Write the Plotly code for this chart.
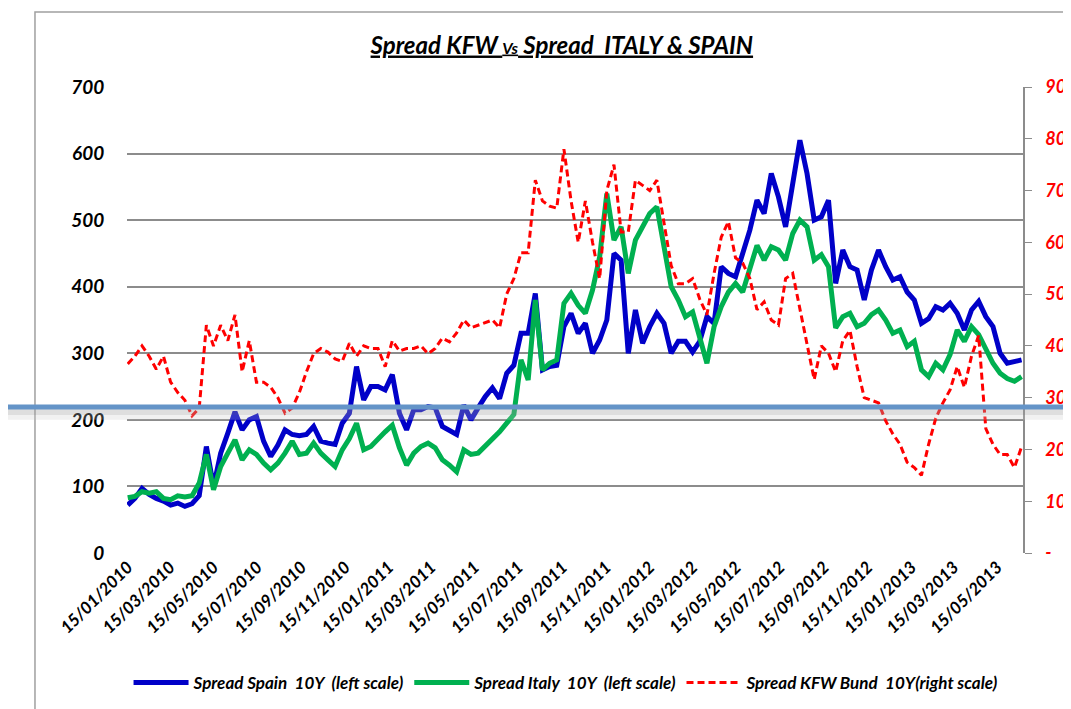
import pandas as pd
import plotly.graph_objects as go

# one reading roughly every 10 days, 15/01/2010 -> mid June 2013
dates = pd.date_range("2010-01-15", periods=126, freq="10D")

spain_10y = [
    72, 82, 97, 88, 82, 78, 72, 75, 70, 74,
    86, 160, 100, 150, 180, 212, 185, 200, 205, 168,
    145, 162, 185, 178, 176, 178, 190, 168, 165, 163,
    195, 210, 280, 230, 250, 250, 245, 268, 210, 185,
    215, 215, 220, 218, 190, 185, 178, 222, 200, 218,
    235, 248, 232, 270, 282, 330, 330, 390, 275, 280,
    282, 340, 360, 330, 345, 300, 320, 350, 450, 440,
    300, 365, 315, 340, 360, 345, 300, 318, 318, 302,
    318, 355, 345, 430, 420, 415, 450, 485, 530, 510,
    570, 535, 490, 560, 620, 570, 500, 505, 530, 405,
    455, 430, 425, 380, 425, 455, 430, 410, 415, 392,
    380, 345, 352, 370, 365, 375, 360, 335, 365, 378,
    355, 340, 300, 285, 288, 290,
]

italy_10y = [
    83, 85, 92, 90, 92, 82, 80, 86, 84, 86,
    105, 148, 95, 130, 150, 170, 140, 155, 148, 135,
    125, 135, 150, 168, 148, 150, 165, 150, 140, 130,
    155, 172, 195, 155, 160, 172, 182, 192, 158, 132,
    150, 160, 165, 158, 140, 132, 122, 155, 148, 150,
    160, 172, 182, 195, 208, 290, 260, 380, 275, 285,
    290, 375, 390, 372, 360, 395, 445, 540, 470, 490,
    420, 470, 490, 510, 520, 455, 400, 380, 355, 362,
    322, 285, 340, 370, 392, 405, 392, 428, 462, 440,
    460, 455, 440, 480, 500, 490, 440, 448, 430, 338,
    355, 360, 340, 345, 358, 365, 350, 330, 335, 310,
    318, 275, 265, 285, 275, 298, 335, 318, 340, 328,
    305, 285, 270, 262, 258, 265,
]

kfw_bund_10y = [
    36.5, 38, 40, 38, 35.5, 38, 33, 31, 29.5, 26.5,
    28, 44, 40, 44, 41, 46, 35, 41, 33, 33,
    32, 30, 27, 28, 31, 35, 38.5, 39.5, 38.8, 37.5,
    37, 40.5, 38, 40, 39.5, 39.5, 36, 41, 39, 39.5,
    39.5, 40, 38.5, 39.5, 41.5, 40.8, 42.5, 45, 43.5, 44,
    44.5, 45, 43.5, 50, 53, 58, 58, 72, 68, 67,
    66.6, 78, 68, 60, 68, 60, 53, 70, 75, 62,
    62, 72, 71, 70, 72, 64, 55.5, 52, 52, 53,
    49, 46, 54, 61, 64, 57, 56, 53, 47, 48.5,
    45, 44, 53, 54, 47, 40, 33.5, 40, 38.6, 35,
    41, 43, 36, 30, 29.5, 29, 25.5, 23, 21, 17.5,
    16.5, 15, 21, 26, 29, 31.5, 36, 32, 38, 42,
    24, 21, 19, 19, 16.5, 20.5,
]

tick_labels = [
    "15/01/2010", "15/03/2010", "15/05/2010", "15/07/2010", "15/09/2010",
    "15/11/2010", "15/01/2011", "15/03/2011", "15/05/2011", "15/07/2011",
    "15/09/2011", "15/11/2011", "15/01/2012", "15/03/2012", "15/05/2012",
    "15/07/2012", "15/09/2012", "15/11/2012", "15/01/2013", "15/03/2013",
    "15/05/2013",
]
tick_dates = pd.to_datetime(tick_labels, format="%d/%m/%Y")

left_ticks = [0, 100, 200, 300, 400, 500, 600, 700]
right_ticks = [0, 10, 20, 30, 40, 50, 60, 70, 80, 90]
right_labels = ["-", "10", "20", "30", "40", "50", "60", "70", "80", "90"]

FONT = "Lato, 'Open Sans', sans-serif"

fig = go.Figure()
fig.add_trace(go.Scatter(
    x=dates, y=spain_10y, mode="lines",
    name="<b><i>Spread Spain  10Y  (left scale)</i></b>",
    line=dict(color="#0000C8", width=5),
))
fig.add_trace(go.Scatter(
    x=dates, y=italy_10y, mode="lines",
    name="<b><i>Spread Italy  10Y  (left scale)</i></b>",
    line=dict(color="#00B050", width=5),
))
fig.add_trace(go.Scatter(
    x=dates, y=kfw_bund_10y, mode="lines", yaxis="y2",
    name="<b><i>Spread KFW Bund  10Y(right scale)</i></b>",
    line=dict(color="#FF0000", width=3, dash="7px,4px"),
))

shapes = [
    # outer chart frame
    dict(type="rect", xref="paper", yref="paper",
         x0=-0.1027, x1=1.06, y0=-0.36, y1=1.161,
         line=dict(color="#A0A0A0", width=1.5), layer="below"),
    # soft shadow under the horizontal marker line
    dict(type="rect", xref="paper", yref="paper",
         x0=-0.15, x1=1.06, y0=0.296, y1=0.310,
         fillcolor="rgba(160,160,160,0.35)", line=dict(width=0), layer="above"),
    dict(type="rect", xref="paper", yref="paper",
         x0=-0.15, x1=1.06, y0=0.286, y1=0.296,
         fillcolor="rgba(200,200,200,0.25)", line=dict(width=0), layer="above"),
    dict(type="line", xref="paper", yref="paper",
         x0=-0.15, x1=1.06, y0=0.3133, y1=0.3133,
         line=dict(color="#6494C8", width=5), layer="above"),
]

# the page body adds an 8px offset, so the figure is 8px smaller on each axis
fig.update_layout(
    width=1063, height=701,
    margin=dict(l=119, r=48, t=79, b=156, autoexpand=False),
    paper_bgcolor="white", plot_bgcolor="white",
    font=dict(family=FONT, color="black"),
    title=dict(
        text="<b><i><u>Spread KFW <span style='font-size:16px'>Vs</span> Spread  ITALY &amp; SPAIN</u></i></b>",
        x=0.521, xanchor="center", y=0.947, yanchor="middle",
        font=dict(size=24, family=FONT, color="black"),
    ),
    xaxis=dict(
        type="date", range=["2010-01-14", "2013-06-20"],
        tickvals=tick_dates, ticktext=[f"<b><i>{t}</i></b>" for t in tick_labels],
        tickangle=-45, tickfont=dict(size=17, family=FONT, color="black"),
        showgrid=False, zeroline=False, showline=False, ticks="",
        automargin=False,
    ),
    yaxis=dict(
        range=[0, 700], tickvals=left_ticks,
        ticktext=[f"<b><i>{v}</i></b>" for v in left_ticks],
        tickfont=dict(size=19, family=FONT, color="black"),
        showgrid=True, gridcolor="#8C8C8C", gridwidth=1.5,
        zeroline=False, showline=False,
        ticks="outside", ticklen=18, tickcolor="rgba(0,0,0,0)",
        automargin=False,
    ),
    yaxis2=dict(
        range=[0, 90], overlaying="y", side="right",
        tickvals=right_ticks,
        ticktext=[f"<b><i>{t}</i></b>" for t in right_labels],
        tickfont=dict(size=18, family=FONT, color="#FF0000"),
        showgrid=False, zeroline=False,
        showline=True, linecolor="#8C8C8C", linewidth=1.5,
        ticks="outside", ticklen=7, tickcolor="#8C8C8C", ticklabelstandoff=10,
        automargin=False,
    ),
    legend=dict(
        orientation="h", x=0.49, xanchor="center", y=-0.279, yanchor="middle",
        font=dict(size=17, family=FONT, color="black"),
        bgcolor="rgba(0,0,0,0)", itemwidth=55,
    ),
    shapes=shapes,
)

fig.write_html("out.html")
